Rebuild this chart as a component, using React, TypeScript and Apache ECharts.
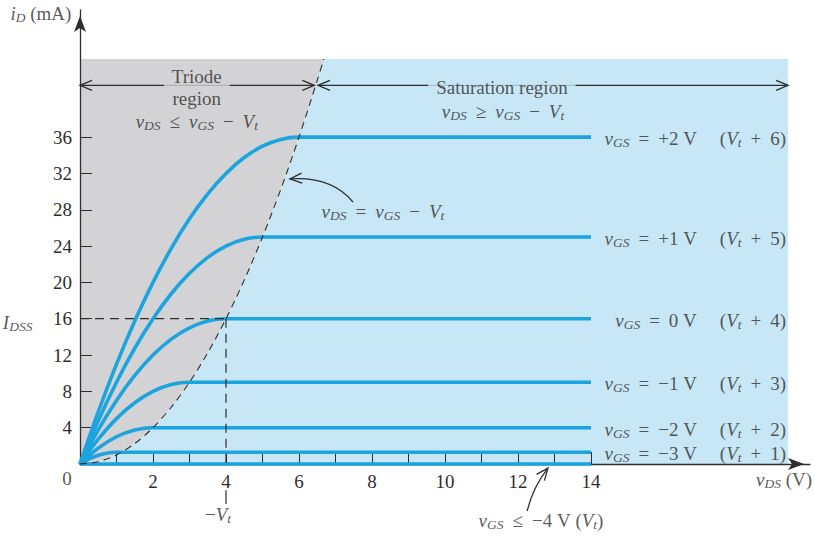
import React, { useEffect, useRef } from "react";
import * as echarts from "echarts";

const FONT = "'Liberation Serif', 'Times New Roman', serif";
const INK = "#2e2e2e";
const CURVE = "#1ba4de";
const GREY = "#d3d3d5";
const BLUE = "#c7e6f6";
const S = "\u00a0";

const X_MAX = 20;
const Y_MAX = 50;
const REGION_TOP = 44.6;
const REGION_RIGHT = 19.4;
const ARROW_Y = 41.7;

const xTickValues = [1, 2, 3, 4, 5, 6, 7, 8, 9, 10, 11, 12, 13, 14];
const xLabelValues = [2, 4, 6, 8, 10, 12, 14];
const yLabelValues = [4, 8, 12, 16, 20, 24, 28, 32, 36];

const curveVgsPlus2 = [[0, 0], [0.5, 5.75], [1, 11], [1.5, 15.75], [2, 20], [2.5, 23.75], [3, 27], [3.5, 29.75], [4, 32], [4.5, 33.75], [5, 35], [5.5, 35.75], [6, 36], [14, 36]];
const curveVgsPlus1 = [[0, 0], [0.5, 4.75], [1, 9], [1.5, 12.75], [2, 16], [2.5, 18.75], [3, 21], [3.5, 22.75], [4, 24], [4.5, 24.75], [5, 25], [14, 25]];
const curveVgs0 = [[0, 0], [0.5, 3.75], [1, 7], [1.5, 9.75], [2, 12], [2.5, 13.75], [3, 15], [3.5, 15.75], [4, 16], [14, 16]];
const curveVgsMinus1 = [[0, 0], [0.5, 2.75], [1, 5], [1.5, 6.75], [2, 8], [2.5, 8.75], [3, 9], [14, 9]];
const curveVgsMinus2 = [[0, 0], [0.5, 1.75], [1, 3], [1.5, 3.75], [2, 4], [14, 4]];
const curveVgsMinus3 = [[0, 0], [0.25, 0.57], [0.5, 0.97], [0.75, 1.22], [1, 1.3], [14, 1.3]];
const curveVgsCutoff = [[0, 0], [14, 0]];
const boundary = [[0, 0], [0.5, 0.25], [1, 1], [1.5, 2.25], [2, 4], [2.5, 6.25], [3, 9], [3.5, 12.25], [4, 16], [4.5, 20.25], [5, 25], [5.5, 30.25], [6, 36], [6.5, 42.25], [6.68, 44.6]];

const curveLabels = ["+2 V", "+1 V", "0 V", "\u22121 V", "\u22122 V", "\u22123 V"];
const curveOffsets = ["6", "5", "4", "3", "2", "1"];
const curveSatLevels = [36, 25, 16, 9, 4, 1.3];
const I_DSS = 16;
const NEG_VT = 4;

const FS = 19;
const rich: any = {
  n: { fontFamily: FONT, fontSize: FS, color: INK, lineHeight: 22 },
  i: { fontFamily: FONT, fontSize: FS, fontStyle: "italic", color: INK, lineHeight: 22 },
  s: { fontFamily: FONT, fontSize: 13.5, fontStyle: "italic", color: INK, lineHeight: 12, verticalAlign: "bottom" },
  op: { fontFamily: FONT, fontSize: FS, color: INK, lineHeight: 22, padding: [0, 9] },
};

const textItem = (x: number, y: number, text: string, position: any = "inside", extra: any = {}) => ({
  value: [x, y],
  label: { show: true, position, distance: 0, formatter: () => text, rich, ...extra },
});

function chevron(tip: number[], from: number[], len = 12, half = 5) {
  const dx = tip[0] - from[0];
  const dy = tip[1] - from[1];
  const d = Math.hypot(dx, dy) || 1;
  const ux = dx / d;
  const uy = dy / d;
  const bx = tip[0] - ux * len;
  const by = tip[1] - uy * len;
  return {
    type: "polyline",
    shape: { points: [[bx - uy * half, by + ux * half], [tip[0], tip[1]], [bx + uy * half, by - ux * half]] },
    style: { stroke: INK, lineWidth: 1.3, fill: null },
  };
}

function seg(a: number[], b: number[], dash?: number[]) {
  return {
    type: "line",
    shape: { x1: a[0], y1: a[1], x2: b[0], y2: b[1] },
    style: { stroke: INK, lineWidth: 1.2, lineDash: dash || null },
  };
}

export default function App() {
  const ref = useRef<HTMLDivElement>(null);
  useEffect(() => {
    const chart = echarts.init(ref.current!, null, { renderer: "svg" });
    const curve = (data: number[][], name: string) => ({
      type: "line",
      name,
      data,
      z: 4,
      symbol: "none",
      silent: true,
      clip: false,
      smooth: 0.35,
      lineStyle: { color: CURVE, width: 3.6 },
    });

    const labelItems: any[] = [];
    curveLabels.forEach((lab, k) => {
      const y = curveSatLevels[k] - 0.15;
      labelItems.push(textItem(16.9, y, `{i|v}{s|GS}{op|=}{n|${lab.replace(" ", S)}}`, "left"));
      labelItems.push(textItem(17.53, y, `{n|(}{i|V}{s|t}{op|+}{n|${curveOffsets[k]})}`, "right"));
    });

    const option: any = {
      animation: false,
      backgroundColor: "#ffffff",
      grid: { left: 80, right: 815 - 80 - X_MAX * 36.5, top: 10, bottom: 80, containLabel: false, outerBoundsMode: "none" },
      xAxis: {
        type: "value",
        min: 0,
        max: X_MAX,
        z: 2,
        axisLine: { show: true, onZero: false, symbol: ["none", "arrow"], symbolSize: [9, 16], symbolOffset: [0, -6], lineStyle: { color: INK, width: 1.3 } },
        axisTick: { show: true, inside: true, length: 12, customValues: xTickValues, lineStyle: { color: INK, width: 1 } },
        axisLabel: { show: true, customValues: xLabelValues, margin: 8, fontFamily: FONT, fontSize: FS, color: INK },
        splitLine: { show: false },
      },
      yAxis: {
        type: "value",
        min: 0,
        max: Y_MAX,
        z: 2,
        axisLine: { show: true, onZero: false, symbol: ["none", "arrow"], symbolSize: [9, 16], symbolOffset: [0, -6], lineStyle: { color: INK, width: 1.3 } },
        axisTick: { show: true, inside: true, length: 12, customValues: yLabelValues, lineStyle: { color: INK, width: 1 } },
        axisLabel: { show: true, customValues: yLabelValues, margin: 8, fontFamily: FONT, fontSize: FS, color: INK },
        splitLine: { show: false },
      },
      series: [
        {
          type: "custom",
          z: 1,
          silent: true,
          clip: false,
          data: [[0, 0]],
          renderItem: (_p: any, api: any) => {
            const bnd = boundary.map((p) => api.coord(p));
            const topLeft = api.coord([0, REGION_TOP]);
            const topRight = api.coord([REGION_RIGHT, REGION_TOP]);
            const botRight = api.coord([REGION_RIGHT, 0]);
            return {
              type: "group",
              children: [
                { type: "polygon", shape: { points: [...bnd, topLeft] }, style: { fill: GREY } },
                { type: "polygon", shape: { points: [...bnd, topRight, botRight] }, style: { fill: BLUE } },
              ],
            };
          },
        },
        curve(curveVgsPlus2, "+2"),
        curve(curveVgsPlus1, "+1"),
        curve(curveVgs0, "0"),
        curve(curveVgsMinus1, "-1"),
        curve(curveVgsMinus2, "-2"),
        curve(curveVgsMinus3, "-3"),
        curve(curveVgsCutoff, "-4"),
        {
          type: "line",
          data: boundary,
          z: 5,
          symbol: "none",
          silent: true,
          clip: false,
          smooth: 0.3,
          lineStyle: { color: INK, width: 1.1, type: [7, 5] },
        },
        {
          type: "custom",
          z: 5,
          silent: true,
          clip: false,
          data: [[0, 0]],
          renderItem: (_p: any, api: any) => {
            const c = (p: number[]) => api.coord(p);
            const A = c([0, ARROW_Y]);
            const B = c([6.42, ARROW_Y]);
            const C = c([6.52, ARROW_Y]);
            const D = c([REGION_RIGHT, ARROW_Y]);
            const p0 = c([7.48, 28.85]);
            const cp = c([6.9, 31.7]);
            const p1 = c([5.75, 31.4]);
            const q0 = c([12.25, -5.2]);
            const cq = c([12.41, -2.53]);
            const q1 = c([12.82, -0.45]);
            const dash = [9, 6];
            return {
              type: "group",
              children: [
                seg(A, B), chevron(A, B), chevron(B, A),
                seg(C, D), chevron(C, D), chevron(D, C),
                seg(c([0, I_DSS]), c([NEG_VT, I_DSS]), dash),
                seg(c([NEG_VT, I_DSS]), c([NEG_VT, 0]), dash),
                seg(c([NEG_VT, -2.9]), c([NEG_VT, -4.4])),
                { type: "bezierCurve", shape: { x1: p0[0], y1: p0[1], x2: p1[0], y2: p1[1], cpx1: cp[0], cpy1: cp[1] }, style: { stroke: INK, lineWidth: 1.3, fill: null } },
                chevron(p1, cp),
                { type: "bezierCurve", shape: { x1: q0[0], y1: q0[1], x2: q1[0], y2: q1[1], cpx1: cq[0], cpy1: cq[1] }, style: { stroke: INK, lineWidth: 1.3, fill: null } },
                chevron(q1, cq),
              ],
            };
          },
        },
        {
          type: "scatter",
          z: 6,
          silent: true,
          clip: false,
          symbolSize: 0,
          data: [
            textItem(3.2, 42.7, "{n|Triode}", "inside", { backgroundColor: GREY, padding: [0, 8] }),
            textItem(3.2, 40.3, "{n|region}"),
            textItem(3.2, 37.7, `{i|v}{s|DS}{op|\u2264}{i|v}{s|GS}{op|\u2212}{i|V}{s|t}`),
            textItem(11.56, 41.5, "{n|Saturation region}", "inside", { backgroundColor: BLUE, padding: [0, 8] }),
            textItem(11.59, 38.8, `{i|v}{s|DS}{op|\u2265}{i|v}{s|GS}{op|\u2212}{i|V}{s|t}`),
            textItem(8.3, 27.86, `{i|v}{s|DS}{op|=}{i|v}{s|GS}{op|\u2212}{i|V}{s|t}`),
            textItem(12.63, -6.17, `{i|v}{s|GS}{op|\u2264}{n|\u22124${S}V${S}(}{i|V}{s|t}{n|)}`),
            textItem(3.78, -5.6, `{n|\u2212}{i|V}{s|t}`),
            textItem(-1.71, 15.6, `{i|I}{s|DSS}`),
            textItem(-1.07, 49.56, `{i|i}{s|D}{n|${S}(mA)}`),
            textItem(19.29, -1.76, `{i|v}{s|DS}{n|${S}(V)}`),
            textItem(-0.356, -1.65, "{n|0}"),
            ...labelItems,
          ],
        },
      ],
    };
    chart.setOption(option);
    return () => chart.dispose();
  }, []);
  return <div ref={ref} style={{ position: "absolute", left: 0, top: 0, width: 815, height: 544, background: "#fff" }} />;
}
